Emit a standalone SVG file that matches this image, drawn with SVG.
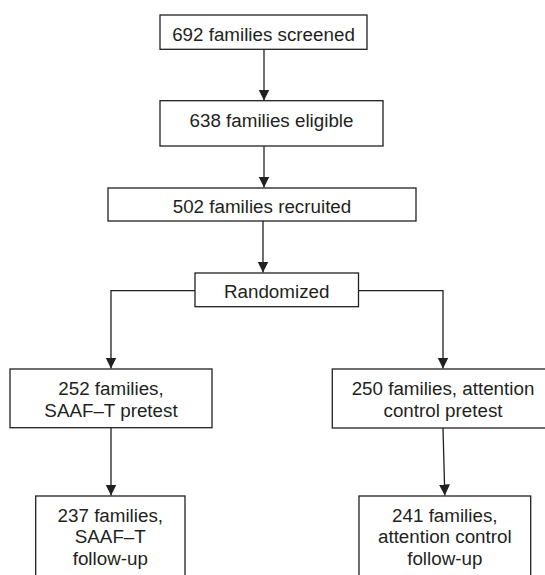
<svg xmlns="http://www.w3.org/2000/svg" width="545" height="575" viewBox="0 0 545 575">
<style>
.box{fill:#fff;stroke:#231f20;stroke-width:1.3}
.lbl{font-family:"Liberation Sans",Arial,sans-serif;font-size:18.8px;fill:#231f20;text-anchor:middle}
.con{fill:none;stroke:#231f20;stroke-width:1.3}
</style>
<defs>
<marker id="ah" markerUnits="userSpaceOnUse" markerWidth="12" markerHeight="12" refX="11" refY="5.5" orient="auto">
<path d="M0,0 L11,5.5 L0,11 Z" fill="#231f20"/>
</marker>
</defs>
<rect width="545" height="575" fill="#fff"/>
<g id="connectors">
<path class="con" d="M264,49.3 L264,100.5" marker-end="url(#ah)"/>
<path class="con" d="M264,146 L264,187.5" marker-end="url(#ah)"/>
<path class="con" d="M263,221 L263,272.5" marker-end="url(#ah)"/>
<path class="con" d="M195,290.7 L111,290.7 L111,368.5" marker-end="url(#ah)"/>
<path class="con" d="M358.5,290.7 L443,290.7 L443,368.5" marker-end="url(#ah)"/>
<path class="con" d="M111,428 L111,495.5" marker-end="url(#ah)"/>
<path class="con" d="M443,428 L444.8,495.5" marker-end="url(#ah)"/>
</g>
<g id="screened">
<rect class="box" x="160" y="15" width="207" height="34.3"/>
<text class="lbl" x="263.5" y="40.7">692 families screened</text>
</g>
<g id="eligible">
<rect class="box" x="160" y="100.7" width="223" height="45.3"/>
<text class="lbl" x="271.5" y="126.7">638 families eligible</text>
</g>
<g id="recruited">
<rect class="box" x="108" y="188" width="308" height="33"/>
<text class="lbl" x="262" y="213.3">502 families recruited</text>
</g>
<g id="randomized">
<rect class="box" x="195" y="273" width="163.5" height="33.7"/>
<text class="lbl" x="276.7" y="298.3">Randomized</text>
</g>
<g id="saaf-pretest">
<rect class="box" x="10" y="369" width="202" height="58.7"/>
<text class="lbl" x="111" y="395">252 families,</text>
<text class="lbl" x="111" y="416.7">SAAF–T pretest</text>
</g>
<g id="control-pretest">
<rect class="box" x="332.3" y="369" width="222" height="59"/>
<text class="lbl" x="443" y="395">250 families, attention</text>
<text class="lbl" x="443" y="416.7">control pretest</text>
</g>
<g id="saaf-followup">
<rect class="box" x="35.7" y="496" width="149.3" height="95"/>
<text class="lbl" x="110.3" y="521.7">237 families,</text>
<text class="lbl" x="110.3" y="543.3">SAAF–T</text>
<text class="lbl" x="110.3" y="565">follow-up</text>
</g>
<g id="control-followup">
<rect class="box" x="359" y="496" width="171.7" height="95"/>
<text class="lbl" x="444.8" y="521.7">241 families,</text>
<text class="lbl" x="444.8" y="543.3">attention control</text>
<text class="lbl" x="444.8" y="565">follow-up</text>
</g>
</svg>
